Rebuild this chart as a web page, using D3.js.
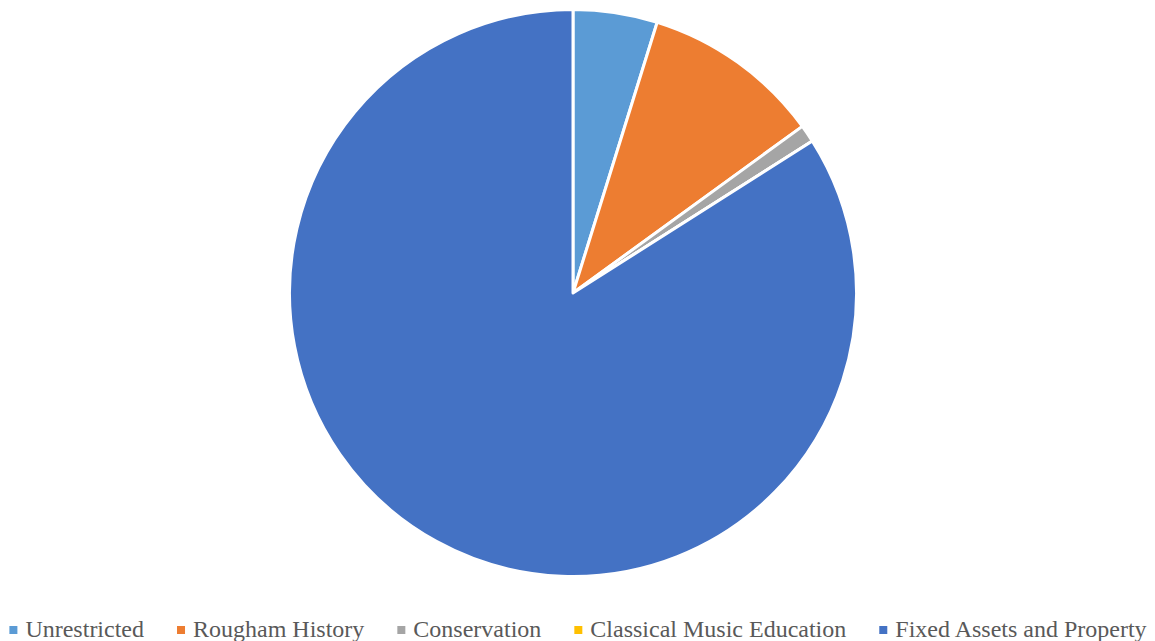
<!DOCTYPE html>
<html><head><meta charset="utf-8">
<script src="https://cdn.jsdelivr.net/npm/d3@7"></script>
<style>html,body{margin:0;padding:0;background:#fff;}svg{display:block;}
.lgt{font-family:"Liberation Serif","Times New Roman",Times,"DejaVu Serif",serif;}</style>
</head><body>
<svg id="chart" width="1155" height="641"></svg>
<script>
const categories = ["Unrestricted", "Rougham History", "Conservation", "Classical Music Education", "Fixed Assets and Property"];
const values = [4.8, 10.2, 1.0, 0.0, 84.0];
const colors = ["#5B9BD5", "#ED7D31", "#A5A5A5", "#FFC000", "#4472C4"];

const svg = d3.select("#chart");
const cx = 573, cy = 293, R = 283.5;

const data = categories.map((c, i) => ({name: c, value: values[i], color: colors[i]}));
const pie = d3.pie().value(d => d.value).sort(null);
const arc = d3.arc().innerRadius(0).outerRadius(R);

svg.append("g").attr("transform", `translate(${cx},${cy})`)
  .selectAll("path").data(pie(data)).join("path")
  .attr("d", arc)
  .attr("fill", d => d.data.color)
  .attr("stroke", "#fff")
  .attr("stroke-width", 3)
  .attr("stroke-linejoin", "round");

// Legend
const fontSize = 24, marker = 8, gapMT = 8, gapItems = 33, baseline = 636.5;
const lg = svg.append("g");
const items = lg.selectAll("g").data(data).join("g");
items.append("rect").attr("width", marker).attr("height", marker)
  .attr("y", baseline - 10.5).attr("fill", d => d.color);
const texts = items.append("text")
  .attr("class", "lgt")
  .attr("x", marker + gapMT).attr("y", baseline)
  .attr("font-size", fontSize).attr("fill", "#595959")
  .text(d => d.name);
const widths = [];
texts.each(function(){ widths.push(this.getComputedTextLength()); });
const itemW = widths.map(w => marker + gapMT + w);
const total = d3.sum(itemW) + gapItems * (itemW.length - 1);
let x = 578 - total / 2;
items.each(function(d, i){
  d3.select(this).attr("transform", `translate(${x},0)`);
  x += itemW[i] + gapItems;
});
</script>
</body></html>
